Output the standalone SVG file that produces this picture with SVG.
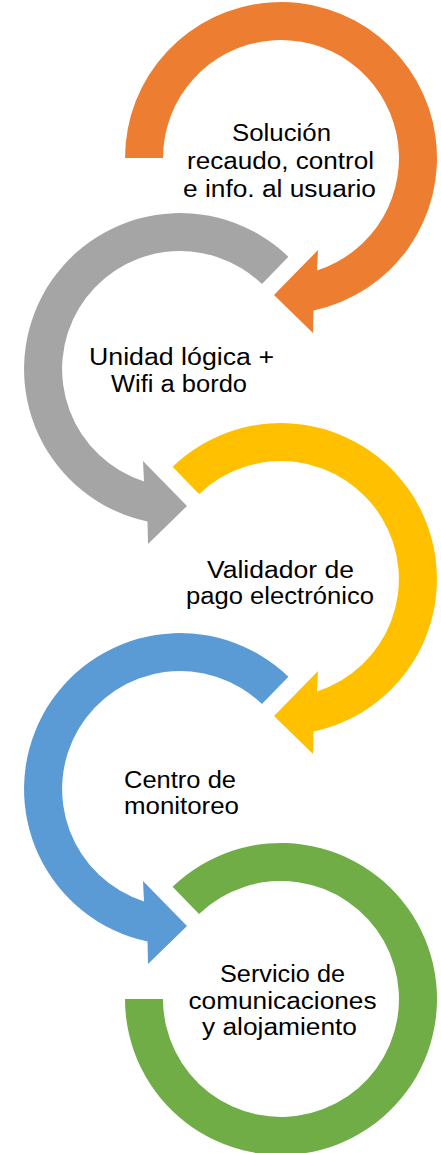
<svg xmlns="http://www.w3.org/2000/svg" width="441" height="1153" viewBox="0 0 441 1153">
  <style>
    .lbl { font-family: "Liberation Sans", Arial, sans-serif; font-size: 23px; fill: #000000; text-anchor: middle; }
    .orange { fill: #ED7D31; }
    .gray { fill: #A5A5A5; }
    .yellow { fill: #FFC000; }
    .blue { fill: #5B9BD5; }
    .green { fill: #70AD47; }
  </style>
  <rect width="441" height="1153" fill="#FFFFFF"/>
  <g id="connectors">
    <path class="orange" transform="translate(281,158)" d="M -156 0 A 156 156 0 1 1 32.5 152.6 L 32 175 L -7 137 L 37 92 L 36 112.4 A 118 118 0 1 0 -118 0 Z"/>
    <path class="gray" transform="translate(180,369)" d="M 108.4 -112.2 A 156 156 0 1 0 -32.5 152.6 L -32 175 L 7 137 L -37 92 L -36 112.4 A 118 118 0 1 1 82.0 -84.9 Z"/>
    <path class="yellow" transform="translate(281,579)" d="M -108.4 -112.2 A 156 156 0 1 1 32.5 152.6 L 32 175 L -7 137 L 37 92 L 36 112.4 A 118 118 0 1 0 -82.0 -84.9 Z"/>
    <path class="blue" transform="translate(180,789)" d="M 108.4 -112.2 A 156 156 0 1 0 -32.5 152.6 L -32 175 L 7 137 L -37 92 L -36 112.4 A 118 118 0 1 1 82.0 -84.9 Z"/>
    <path class="green" transform="translate(281,999)" d="M -108.4 -112.2 A 156 156 0 1 1 -156 0 L -118 0 A 118 118 0 1 0 -82.0 -84.9 Z"/>
  </g>
  <g id="node-solucion">
    <text class="lbl" x="281.5" y="141" textLength="99" lengthAdjust="spacingAndGlyphs">Solución</text>
    <text class="lbl" x="280.5" y="169" textLength="187" lengthAdjust="spacingAndGlyphs">recaudo, control</text>
    <text class="lbl" x="279.5" y="197" textLength="193" lengthAdjust="spacingAndGlyphs">e info. al usuario</text>
  </g>
  <g id="node-unidad">
    <text class="lbl" x="181.5" y="365" textLength="185" lengthAdjust="spacingAndGlyphs">Unidad lógica +</text>
    <text class="lbl" x="179" y="392" textLength="136" lengthAdjust="spacingAndGlyphs">Wifi a bordo</text>
  </g>
  <g id="node-validador">
    <text class="lbl" x="280.5" y="578" textLength="147" lengthAdjust="spacingAndGlyphs">Validador de</text>
    <text class="lbl" x="280" y="604" textLength="188" lengthAdjust="spacingAndGlyphs">pago electrónico</text>
  </g>
  <g id="node-centro">
    <text class="lbl" x="180" y="788" textLength="112" lengthAdjust="spacingAndGlyphs">Centro de</text>
    <text class="lbl" x="181.5" y="814" textLength="115" lengthAdjust="spacingAndGlyphs">monitoreo</text>
  </g>
  <g id="node-servicio">
    <text class="lbl" x="282.5" y="982" textLength="125" lengthAdjust="spacingAndGlyphs">Servicio de</text>
    <text class="lbl" x="282.5" y="1009" textLength="188" lengthAdjust="spacingAndGlyphs">comunicaciones</text>
    <text class="lbl" x="279.5" y="1035" textLength="155" lengthAdjust="spacingAndGlyphs">y alojamiento</text>
  </g>
</svg>
